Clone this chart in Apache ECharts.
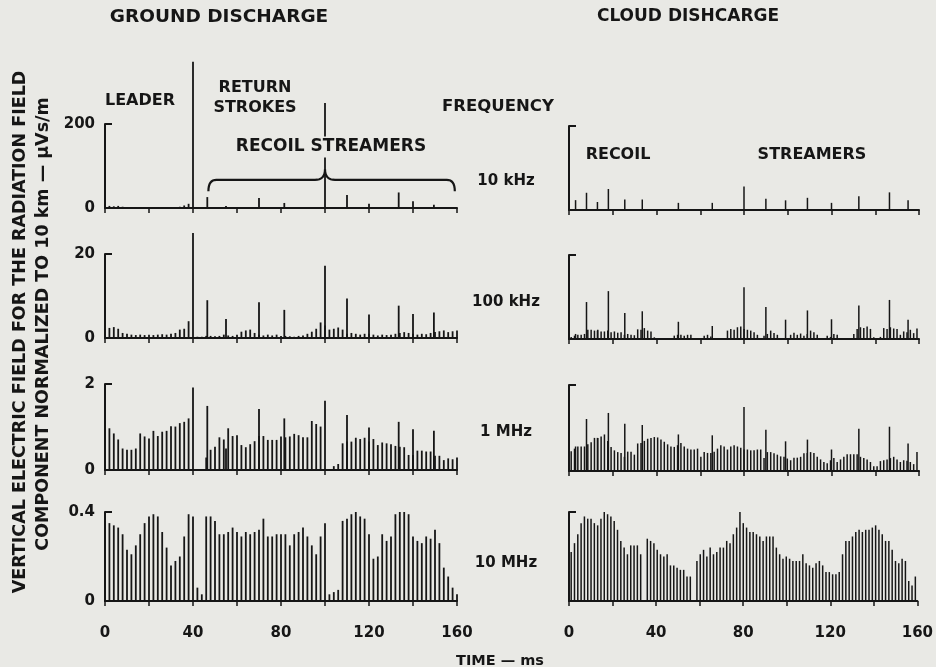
<!DOCTYPE html>
<html>
<head>
<meta charset="utf-8">
<title>Ground and cloud discharge radiation spectra</title>
<style>
  html, body { margin: 0; padding: 0; background: #e9e9e5; }
  #main { width: 936px; height: 667px; }
</style>
</head>
<body>
<div id="main"></div>
<script src="https://cdn.jsdelivr.net/npm/echarts@6/dist/echarts.min.js"></script>
<script>
// ---- data (time in ms, field in uVs/m normalized to 10 km) ----
var freqLabels = ['10 kHz', '100 kHz', '1 MHz', '10 MHz'];
var yMax = [200, 20, 2, 0.4];
var timeLabels = [0, 40, 80, 120, 160];

// ground discharge: background pulses every 2 ms starting at 0
var groundStep = 2;
var ground10k = [4, 5, 4, 5, 3, 2, 1, 1, 1, 1, 1, 1, 1, 1, 1, 1, 2, 3, 6, 10];
var ground100k = [
  2.0, 2.4, 2.6, 2.2, 1.2, 1.0, 0.8, 0.7, 0.8, 0.7,
  0.8, 0.7, 0.8, 0.9, 0.8, 1.0, 1.2, 2.0, 2.2, 4.0,
  0, 0.3, 0.3, 0.5, 0.5, 0.4, 0.5, 0.8, 0.6, 0.5,
  0.8, 1.5, 1.8, 2.0, 1.2, 0.8, 0.6, 0.8, 0.6, 0.8,
  0.5, 0.5, 0.4, 0.3, 0.5, 0.6, 1.0, 1.5, 2.2, 3.7,
  3.0, 2.0, 2.2, 2.5, 2.0, 1.0, 1.2, 1.0, 0.8, 1.0,
  1.0, 0.8, 0.6, 0.8, 0.7, 0.8, 1.0, 1.2, 1.4, 1.2,
  1.0, 0.8, 1.0, 0.9, 1.2, 1.4, 1.6, 1.8, 1.4, 1.6,
  1.8
];
var ground1M = [
  1.12, 0.97, 0.85, 0.71, 0.50, 0.47, 0.47, 0.50, 0.85, 0.78,
  0.73, 0.91, 0.79, 0.89, 0.91, 1.02, 1.01, 1.09, 1.12, 1.20,
  0, 0, 0.02, 0.29, 0.47, 0.54, 0.76, 0.71, 0.97, 0.79,
  0.81, 0.58, 0.53, 0.60, 0.67, 0.79, 0.79, 0.70, 0.70, 0.70,
  0.78, 0.76, 0.78, 0.84, 0.81, 0.76, 0.76, 1.14, 1.07, 1.01,
  0, 0.02, 0.09, 0.14, 0.62, 0.66, 0.66, 0.75, 0.72, 0.75,
  0.66, 0.72, 0.58, 0.64, 0.62, 0.60, 0.56, 0.54, 0.53, 0.35,
  0.35, 0.45, 0.45, 0.43, 0.43, 0.33, 0.33, 0.23, 0.27, 0.25,
  0.29
];
var ground10M = [
  0.36, 0.35, 0.34, 0.33, 0.30, 0.23, 0.21, 0.25, 0.30, 0.35,
  0.38, 0.39, 0.38, 0.31, 0.24, 0.16, 0.18, 0.20, 0.29, 0.39,
  0.38, 0.06, 0.03, 0.38, 0.38, 0.36, 0.30, 0.30, 0.31, 0.33,
  0.31, 0.29, 0.31, 0.30, 0.31, 0.32, 0.37, 0.29, 0.29, 0.30,
  0.30, 0.30, 0.25, 0.30, 0.31, 0.33, 0.29, 0.25, 0.21, 0.29,
  0.35, 0.03, 0.04, 0.05, 0.36, 0.37, 0.39, 0.40, 0.38, 0.37,
  0.30, 0.19, 0.20, 0.30, 0.27, 0.29, 0.39, 0.41, 0.41, 0.39,
  0.29, 0.27, 0.26, 0.29, 0.28, 0.32, 0.26, 0.15, 0.11, 0.06,
  0.03
];
// return strokes / recoil streamer pulses
var groundSpikeT = [40, 46.5, 55, 70, 81.5, 100, 110, 120, 133.5, 140, 149.5];
var groundSpike10k = [348, 26, 5, 24, 12, 250, 31, 10, 37, 16, 8];
var groundSpike100k = [25, 9, 4.5, 8.5, 6.7, 17.2, 9.4, 5.6, 7.7, 5.7, 6.1];
var groundSpike1M = [1.92, 1.49, 0.5, 1.42, 1.2, 1.61, 1.28, 0.99, 1.12, 0.95, 0.91];

// cloud discharge: background pulses every 1.52 ms starting at 1 ms
var cloudStart = 1;
var cloudStep = 1.52;
var cloud100k = [
  0.5, 0.8, 1.0, 1.0, 1.2, 2.2, 2.2, 2.0, 2.2, 1.8,
  1.8, 2.0, 1.6, 1.8, 1.5, 1.6, 1.0, 1.2, 1.0, 0.9,
  2.3, 2.2, 2.6, 2.0, 1.8, 0.4, 0, 0, 0, 0,
  0, 0.8, 1.0, 1.0, 0.8, 1.0, 1.0, 0, 0, 0,
  0.8, 1.0, 0.6, 0, 0, 0, 0, 2.0, 2.4, 2.2,
  2.8, 3.0, 2.4, 2.2, 2.0, 1.6, 1.0, 0, 0.8, 1.2,
  2.0, 1.4, 1.0, 0, 0, 0.2, 1.0, 1.5, 1.0, 1.3,
  0.8, 1.2, 2.0, 1.6, 1.0, 0, 0, 0.8, 0.5, 1.2,
  1.0, 0.2, 0, 0, 0, 1.2, 2.4, 2.8, 2.6, 3.0,
  2.4, 0.4, 0, 0.5, 2.6, 2.4, 2.8, 2.5, 2.4, 1.0,
  1.8, 1.6, 2.2, 1.4, 2.5
];
var cloud1M = [
  0.46, 0.52, 0.57, 0.57, 0.57, 0.62, 0.67, 0.77, 0.77, 0.80,
  0.85, 0.70, 0.56, 0.48, 0.44, 0.42, 0.33, 0.45, 0.45, 0.38,
  0.64, 0.65, 0.70, 0.75, 0.77, 0.79, 0.78, 0.73, 0.68, 0.62,
  0.57, 0.56, 0.60, 0.65, 0.57, 0.52, 0.50, 0.50, 0.52, 0.33,
  0.44, 0.42, 0.42, 0.45, 0.52, 0.60, 0.57, 0.50, 0.57, 0.60,
  0.57, 0.54, 0.50, 0.50, 0.48, 0.48, 0.50, 0.50, 0.30, 0.44,
  0.44, 0.41, 0.38, 0.34, 0.33, 0.29, 0.25, 0.31, 0.31, 0.33,
  0.41, 0.42, 0.44, 0.42, 0.33, 0.27, 0.21, 0.18, 0.25, 0.30,
  0.21, 0.27, 0.33, 0.39, 0.39, 0.39, 0.39, 0.33, 0.30, 0.27,
  0.21, 0.11, 0.11, 0.23, 0.25, 0.27, 0.30, 0.33, 0.27, 0.21,
  0.25, 0.24, 0.21, 0.16, 0.44
];
var cloud10M = [
  0.22, 0.26, 0.30, 0.35, 0.38, 0.37, 0.37, 0.35, 0.34, 0.37,
  0.41, 0.39, 0.38, 0.36, 0.32, 0.27, 0.24, 0.21, 0.25, 0.25,
  0.25, 0.21, 0, 0.28, 0.27, 0.26, 0.23, 0.21, 0.20, 0.21,
  0.16, 0.16, 0.15, 0.14, 0.14, 0.11, 0.11, 0, 0.18, 0.21,
  0.23, 0.20, 0.24, 0.21, 0.22, 0.24, 0.24, 0.27, 0.26, 0.30,
  0.33, 0.40, 0.35, 0.33, 0.31, 0.31, 0.30, 0.29, 0.27, 0.29,
  0.29, 0.29, 0.24, 0.21, 0.19, 0.20, 0.19, 0.18, 0.18, 0.18,
  0.21, 0.17, 0.16, 0.15, 0.17, 0.18, 0.16, 0.13, 0.13, 0.12,
  0.12, 0.13, 0.21, 0.27, 0.27, 0.29, 0.31, 0.32, 0.31, 0.32,
  0.32, 0.33, 0.34, 0.32, 0.30, 0.27, 0.27, 0.23, 0.18, 0.17,
  0.19, 0.18, 0.09, 0.07, 0.11
];
var cloudSpikeT = [3, 8, 13, 18, 25.5, 33.5, 50, 65.5, 80, 90, 99, 109, 120, 132.5, 146.5, 155];
var cloudSpike10k = [23.5, 41, 19, 50, 25, 25, 17, 17, 56, 27, 23, 29, 17, 33, 42, 23];
var cloudSpike100k = [1.2, 8.8, 2, 11.4, 6.2, 6.6, 4.1, 3.1, 12.3, 7.6, 4.6, 6.8, 4.7, 8, 9.3, 4.6];
var cloudSpike1M = [0.57, 1.21, 0.77, 1.35, 1.1, 1.07, 0.85, 0.83, 1.49, 0.96, 0.69, 0.73, 0.5, 0.98, 1.03, 0.64];

// ---- layout ----
var ink = '#161616';
var paper = '#e9e9e5';
var font = '"DejaVu Sans", sans-serif';
var colLeft = [105, 569];
var colWidth = [352, 350];
var rowTop = [[124, 254, 384, 512], [126, 255, 385, 512]];
var rowHeight = [84, 84, 86, 89];

function pulses(vals, start, step) {
  return vals.map(function (v, i) { return [+(start + i * step).toFixed(2), v]; });
}
function pairs(ts, vs) {
  return ts.map(function (t, i) { return [t, vs[i]]; });
}

var panels = [
  [pulses(ground10k, 0, groundStep), pairs(groundSpikeT, groundSpike10k)],
  [pulses(ground100k, 0, groundStep), pairs(groundSpikeT, groundSpike100k)],
  [pulses(ground1M, 0, groundStep), pairs(groundSpikeT, groundSpike1M)],
  [pulses(ground10M, 0, groundStep), []],
  [[], pairs(cloudSpikeT, cloudSpike10k)],
  [pulses(cloud100k, cloudStart, cloudStep), pairs(cloudSpikeT, cloudSpike100k)],
  [pulses(cloud1M, cloudStart, cloudStep), pairs(cloudSpikeT, cloudSpike1M)],
  [pulses(cloud10M, cloudStart, cloudStep), []]
];

var grids = [], xAxes = [], yAxes = [], series = [];
panels.forEach(function (p, k) {
  var col = Math.floor(k / 4), row = k % 4;
  grids.push({ left: colLeft[col], width: colWidth[col], top: rowTop[col][row], height: rowHeight[row] });
  xAxes.push({
    type: 'value', gridIndex: k, min: 0, max: 160, interval: 20,
    axisLine: { lineStyle: { color: ink, width: 2 } },
    axisTick: { length: 5, lineStyle: { color: ink, width: 1.5 } },
    axisLabel: {
      show: row === 3, margin: 25, color: ink, fontFamily: font, fontWeight: 'bold', fontSize: 15,
      formatter: function (v) { return timeLabels.indexOf(v) >= 0 ? String(v) : ''; }
    },
    splitLine: { show: false }
  });
  yAxes.push({
    type: 'value', gridIndex: k, min: 0, max: yMax[row], interval: yMax[row],
    axisLine: { show: true, lineStyle: { color: ink, width: 2 } },
    axisTick: { show: true, inside: true, length: 7, lineStyle: { color: ink, width: 2 } },
    axisLabel: { show: col === 0, margin: 10, color: ink, fontFamily: font, fontWeight: 'bold', fontSize: 15 },
    splitLine: { show: false }
  });
  var bw = col === 0 ? 1.8 : 1.5;
  series.push({
    type: 'bar', xAxisIndex: k, yAxisIndex: k, data: p[0], barWidth: bw, barGap: '-100%',
    itemStyle: { color: ink }, silent: true, animation: false
  });
  series.push({
    type: 'bar', xAxisIndex: k, yAxisIndex: k, data: p[1], barWidth: bw, barGap: '-100%',
    clip: false, itemStyle: { color: ink }, silent: true, animation: false
  });
});

function label(text, x, y, size, extra) {
  var s = { text: text, x: x, y: y, fill: ink, font: 'bold ' + (size || 16) + 'px ' + font,
            textAlign: 'center', textVerticalAlign: 'middle' };
  if (extra) for (var key in extra) s[key] = extra[key];
  return { type: 'text', z: 100, style: s };
}

var texts = [
  label('GROUND DISCHARGE', 219, 17, 18.5),
  label('CLOUD DISHCARGE', 688, 17, 17),
  label('LEADER', 140, 101, 16),
  label('RETURN', 255, 88, 16),
  label('STROKES', 255, 108, 16),
  label('RECOIL STREAMERS', 331, 147, 17, { backgroundColor: paper, padding: [2, 4] }),
  label('FREQUENCY', 498, 107, 16.5),
  label('RECOIL', 618, 155, 16),
  label('STREAMERS', 812, 155, 16),
  label('TIME \u2014 ms', 500, 661, 14.5)
];
var freqY = [181, 302, 432, 563];
freqLabels.forEach(function (f, i) { texts.push(label(f, 506, freqY[i], 15)); });
texts.push({ type: 'text', z: 100, rotation: Math.PI / 2, x: 20, y: 332,
  style: { text: 'VERTICAL ELECTRIC FIELD FOR THE RADIATION FIELD', fill: ink, font: 'bold 17.5px ' + font,
           textAlign: 'center', textVerticalAlign: 'middle' } });
texts.push({ type: 'text', z: 100, rotation: Math.PI / 2, x: 43, y: 324,
  style: { text: 'COMPONENT NORMALIZED TO 10 km \u2014 \u00b5Vs/m', fill: ink, font: 'bold 17.5px ' + font,
           textAlign: 'center', textVerticalAlign: 'middle' } });

var chart = echarts.init(document.getElementById('main'));
chart.setOption({
  backgroundColor: paper,
  animation: false,
  grid: grids, xAxis: xAxes, yAxis: yAxes, series: series
});

// brace over the recoil streamers (in data units of the 10 kHz ground panel)
var braceFrom = 47, braceMid = 100, braceTo = 159, braceLevel = 67, braceTip = 92, braceEnd = 40;
function px(t, v) { return chart.convertToPixel({ gridIndex: 0 }, [t, v]); }
function quad(p0, p1, p2, out) {
  for (var s = 0; s <= 8; s++) {
    var u = s / 8, w = 1 - u;
    out.push([w * w * p0[0] + 2 * w * u * p1[0] + u * u * p2[0],
              w * w * p0[1] + 2 * w * u * p1[1] + u * u * p2[1]]);
  }
}
var a = px(braceFrom, braceEnd), b = px(braceFrom, braceLevel), m = px(braceMid, braceLevel),
    tip = px(braceMid, braceTip), c = px(braceTo, braceLevel), d = px(braceTo, braceEnd);
var pts = [];
quad(a, b, [b[0] + 8, b[1]], pts);
quad([m[0] - 10, m[1]], m, tip, pts);
quad(tip, m, [m[0] + 10, m[1]], pts);
quad([c[0] - 8, c[1]], c, d, pts);
texts.push({ type: 'polyline', z: 90, shape: { points: pts },
  style: { fill: null, stroke: ink, lineWidth: 2.2 } });

chart.setOption({ graphic: { elements: texts } });
</script>
</body>
</html>
